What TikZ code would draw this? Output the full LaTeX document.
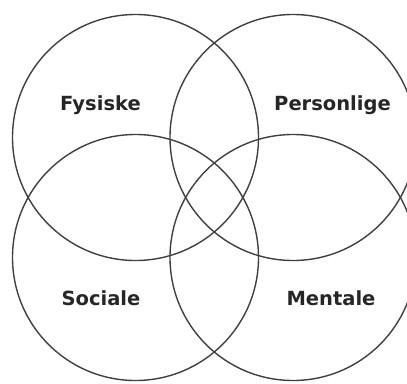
\documentclass[tikz,border=0pt]{standalone}
\usepackage{fontspec}
\newfontfamily\vennfont{DejaVu Sans}
\begin{document}
\begin{tikzpicture}[x=1pt,y=-1pt,
  ring/.style={draw=black!75,line width=1.4pt,circle,minimum size=246pt,inner sep=0pt},
  lbl/.style={font=\vennfont\bfseries\fontsize{19.5}{22}\selectfont,text=black!85,
    anchor=base,inner sep=0pt}
]
  \useasboundingbox (0,0) rectangle (407,383);
  \clip (0,0) rectangle (407,383);

  % Circles
  \node[ring] (fys) at (135.5,137.5) {};
  \node[ring] (per) at (293,137.5) {};
  \node[ring] (soc) at (135.5,257.5) {};
  \node[ring] (men) at (293,257.5) {};

  % Labels
  \node[lbl] (fystxt) at (100.5,110.5) {Fysiske};
  \node[lbl] (pertxt) at (332.5,110.5) {Personlige};
  \node[lbl] (soctxt) at (101,305.5) {Sociale};
  \node[lbl] (mentxt) at (331,305.5) {Mentale};
\end{tikzpicture}
\end{document}
